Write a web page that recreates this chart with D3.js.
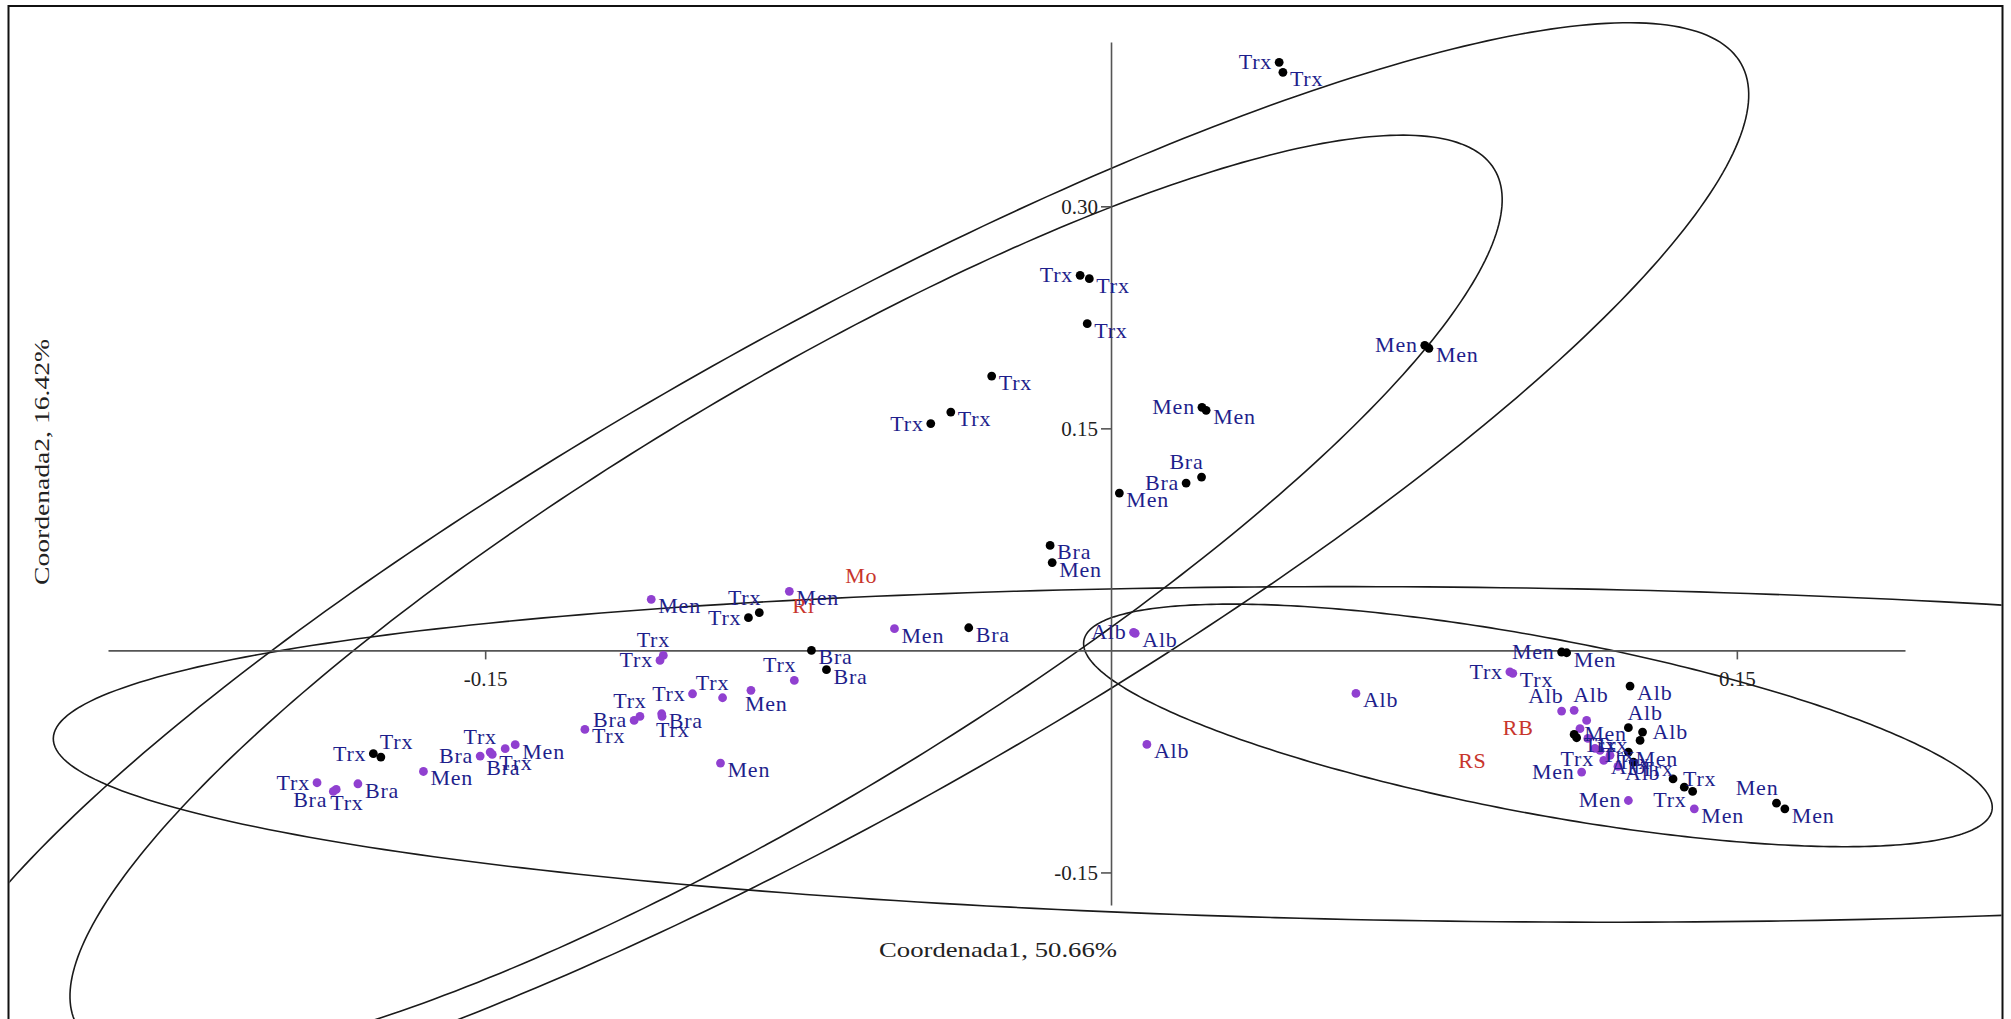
<!DOCTYPE html>
<html>
<head>
<meta charset="utf-8">
<script src="https://cdnjs.cloudflare.com/ajax/libs/d3/7.8.5/d3.min.js"></script>
<style>
  body { margin: 0; background: #fff; }
  svg { display: block; }
  text { font-family: 'Liberation Serif', 'Times New Roman', serif; }
</style>
</head>
<body>
<div id="chart"></div>
<script>
// PCoA scores (Coordenada1, Coordenada2)
const coord1 = [
  0.0403, 0.0412, -0.0074, -0.0052, -0.0057, -0.0286, -0.0384, -0.0432, 0.0218, 0.0228,
  0.0217, 0.0180, 0.0020, -0.0146, -0.0141, -0.0341, -0.0718, -0.0682, -0.0869, -0.0843,
  -0.0519, 0.0054, 0.0058, 0.0086, -0.0771, -0.1102, -0.1073, -0.1081, -0.1077, -0.1076,
  -0.1129, -0.1143, -0.1261, -0.1003, -0.0931, -0.0863, -0.0759, -0.0936,
  -0.1768, -0.1750, -0.1648, -0.1512, -0.1488, -0.1452, -0.1428, -0.1483, -0.1903, -0.1857,
  -0.1864, -0.1805,
  0.1080, 0.1092, 0.0956, 0.0963, 0.1080, 0.1110, 0.1244, 0.1240, 0.1274, 0.1268,
  0.1140, 0.1124, 0.1110, 0.1116, 0.1172, 0.1196, 0.1215, 0.1240, 0.1252, 0.1347,
  0.1374, 0.1394, 0.1128, 0.1240, 0.1398, 0.1595, 0.1615, 0.0587, 0.1160, 0.1143,
  0.1181, 0.0752, 0.0762
];
const coord2 = [
  0.3973, 0.3905, 0.2534, 0.2511, 0.2207, 0.1853, 0.1610, 0.1532, 0.1642, 0.1622,
  0.1171, 0.1130, 0.1063, 0.0709, 0.0593, 0.0153, 0.0000, -0.0130, 0.0221, 0.0255,
  0.0147, 0.0122, 0.0115, -0.0635, 0.0399, 0.0345, -0.0034, -0.0068, -0.0428, -0.0446,
  -0.0446, -0.0473, -0.0534, -0.0293, -0.0320, -0.0270, -0.0203, -0.0761,
  -0.0698, -0.0721, -0.0818, -0.0714, -0.0687, -0.0664, -0.0637, -0.0703, -0.0894, -0.0939,
  -0.0953, -0.0901,
  -0.0011, -0.0016, -0.0145, -0.0155, -0.0410, -0.0405, -0.0241, -0.0522, -0.0552, -0.0608,
  -0.0473, -0.0529, -0.0568, -0.0590, -0.0676, -0.0709, -0.0784, -0.0687, -0.0755, -0.0868,
  -0.0924, -0.0953, -0.0822, -0.1014, -0.1070, -0.1032, -0.1070, -0.0291, -0.0662, -0.0595,
  -0.0743, 0.2061, 0.2041
];
// 0 = black dots, 1 = purple dots
const dotGroup = [
  0, 0, 0, 0, 0, 0, 0, 0, 0, 0,
  0, 0, 0, 0, 0, 0, 0, 0, 0, 0,
  1, 1, 1, 1, 1, 1, 1, 1, 1, 1,
  1, 1, 1, 1, 1, 1, 1, 1,
  0, 0, 1, 1, 1, 1, 1, 1, 1, 1,
  1, 1,
  0, 0, 1, 1, 1, 1, 0, 0, 0, 0,
  1, 1, 0, 0, 1, 1, 1, 0, 0, 0,
  0, 0, 1, 1, 1, 0, 0, 1, 1, 1,
  1, 0, 0
];
const pointLabels = [
  'Trx', 'Trx', 'Trx', 'Trx', 'Trx', 'Trx', 'Trx', 'Trx', 'Men', 'Men',
  'Bra', 'Bra', 'Men', 'Bra', 'Men', 'Bra', 'Bra', 'Bra', 'Trx', 'Trx',
  'Men', 'Alb', 'Alb', 'Alb', 'Men', 'Men', 'Trx', 'Trx', 'Bra', 'Trx',
  'Trx', 'Bra', 'Trx', 'Trx', 'Trx', 'Men', 'Trx', 'Men',
  'Trx', 'Trx', 'Men', 'Bra', 'Trx', 'Trx', 'Men', 'Bra', 'Trx', 'Trx',
  'Bra', 'Bra',
  'Men', 'Men', 'Trx', 'Trx', 'Alb', 'Alb', 'Alb', 'Alb', 'Alb', '',
  '', '', 'Men', 'Trx', 'Trx', 'Trx', 'Alb', 'Men', 'Trx', 'Trx',
  '', 'Trx', 'Men', 'Men', 'Men', 'Men', 'Men', 'Alb', 'Trx', 'Trx',
  'Alb', 'Men', 'Men'
];
// where each label sits next to its dot
const labelSide = [
  'l', 'r', 'l', 'r', 'r', 'r', 'r', 'l', 'l', 'r',
  'al', 'l', 'r', 'r', 'r', 'r', 'r', 'r', 'l', 'al',
  'r', 'l', 'r', 'r', 'r', 'r', 'a', 'l', 'r', 'b',
  'a', 'l', 'r', 'l', 'a', 'b', 'al', 'r',
  'l', 'ar', 'r', 'l', 'a', 'b', 'r', 'b', 'l', 'b',
  'lb', 'r',
  'l', 'r', 'l', 'r', 'al', 'ar', 'r', 'ar', 'rm', 'r',
  'r', 'r', 'rm', 'r', 'lb', 'r', 'r', 'r', 'r', 'rm',
  'r', 'lb', 'l', 'l', 'r', 'al', 'r', 'r', 'r', 'r',
  'r', 'l', 'r'
];

// group names (red) and where they are printed
const groupNames = ['Mo', 'Ri', 'RB', 'RS'];
const groupNameX = [-0.0637, -0.0764, 0.0939, 0.0832];
const groupNameY = [0.0453, 0.0250, -0.0574, -0.0797];

// confidence ellipses: centre and the two semi-axis vectors, in data units
const ellipseCenters = [[-0.06734, 0.05068], [-0.07788, 0.03541], [0.08723, -0.07027], [0.10232, -0.05068]];
const ellipseAxisA = [[0.21838, 0.34554], [0.16976, 0.28959], [0.34074, -0.01074], [0.10882, -0.05743]];
const ellipseAxisB = [[0.02815, -0.14142], [0.02530, -0.11791], [-0.00045, -0.11284], [-0.00388, -0.05845]];

const xExtent = [-0.2404, 0.1903];
const yExtent = [-0.172, 0.411];
const xTicks = [-0.15, 0.15];
const yTicks = [-0.15, 0.15, 0.30];
const xTitle = 'Coordenada1, 50.66%';
const yTitle = 'Coordenada2, 16.42%';

const width = 2011;
const height = 1019;
const labelColor = '#1f1f8c';
const dotColors = ['#000000', '#9040d0'];
const place = {
  r: ['start', 7, 14],
  l: ['end', -7, 7],
  rm: ['start', 10, 7],
  a: ['middle', -10, -8],
  al: ['end', 2, -8],
  ar: ['start', -1, -8],
  b: ['start', -6, 21],
  lb: ['end', -6, 16]
};

const svg = d3.select('#chart').append('svg')
  .attr('width', width)
  .attr('height', height);

svg.append('rect')
  .attr('width', width)
  .attr('height', height)
  .attr('fill', '#fff');

const x = d3.scaleLinear().domain(xExtent).range([108, 1905]);
const y = d3.scaleLinear().domain(yExtent).range([905, 42]);

// frame
svg.append('rect')
  .attr('x', 8.5)
  .attr('y', 6)
  .attr('width', 1994)
  .attr('height', 1030)
  .attr('fill', 'none')
  .attr('stroke', '#111')
  .attr('stroke-width', 2);

svg.append('clipPath')
  .attr('id', 'frame')
  .append('rect')
  .attr('x', 9.5)
  .attr('y', 7)
  .attr('width', 1992)
  .attr('height', 1030);

// ellipses
const line = d3.line()
  .x(d => x(d[0]))
  .y(d => y(d[1]))
  .curve(d3.curveLinearClosed);

const steps = d3.range(0, 360, 1).map(a => a * Math.PI / 180);

svg.append('g')
  .attr('clip-path', 'url(#frame)')
  .selectAll('path')
  .data(ellipseCenters)
  .join('path')
  .attr('d', (c, i) => line(steps.map(t => [
    c[0] + ellipseAxisA[i][0] * Math.cos(t) + ellipseAxisB[i][0] * Math.sin(t),
    c[1] + ellipseAxisA[i][1] * Math.cos(t) + ellipseAxisB[i][1] * Math.sin(t)
  ])))
  .attr('fill', 'none')
  .attr('stroke', '#1a1a1a')
  .attr('stroke-width', 1.6);

// axes crossing at the origin
const fmt = d => d.toFixed(2);

const gx = svg.append('g')
  .attr('transform', 'translate(0,' + y(0) + ')')
  .call(d3.axisBottom(x).tickValues(xTicks).tickFormat(fmt).tickSize(9).tickSizeOuter(0).tickPadding(12));

const gy = svg.append('g')
  .attr('transform', 'translate(' + x(0) + ',0)')
  .call(d3.axisLeft(y).tickValues(yTicks).tickFormat(fmt).tickSize(10).tickSizeOuter(0).tickPadding(3));

[gx, gy].forEach(g => {
  g.select('.domain').attr('stroke', '#555').attr('stroke-width', 1.6);
  g.selectAll('.tick line').attr('stroke', '#555').attr('stroke-width', 1.6);
  g.selectAll('.tick text')
    .attr('fill', '#222')
    .style('font-size', '21px')
    .style('font-family', "'Liberation Serif', serif");
});

// axis titles
svg.append('text')
  .attr('x', 998)
  .attr('y', 957)
  .attr('text-anchor', 'middle')
  .attr('textLength', 238)
  .attr('lengthAdjust', 'spacingAndGlyphs')
  .attr('fill', '#222')
  .style('font-size', '21px')
  .text(xTitle);

svg.append('text')
  .attr('transform', 'translate(49,462) rotate(-90)')
  .attr('text-anchor', 'middle')
  .attr('textLength', 246)
  .attr('lengthAdjust', 'spacingAndGlyphs')
  .attr('fill', '#222')
  .style('font-size', '21px')
  .text(yTitle);

// points
const idx = d3.range(coord1.length);

svg.append('g')
  .selectAll('circle')
  .data(idx)
  .join('circle')
  .attr('cx', i => x(coord1[i]))
  .attr('cy', i => y(coord2[i]))
  .attr('r', 4.4)
  .attr('fill', i => dotColors[dotGroup[i]]);

svg.append('g')
  .selectAll('text')
  .data(idx.filter(i => pointLabels[i] !== ''))
  .join('text')
  .attr('x', i => x(coord1[i]) + place[labelSide[i]][1])
  .attr('y', i => y(coord2[i]) + place[labelSide[i]][2])
  .attr('text-anchor', i => place[labelSide[i]][0])
  .attr('fill', labelColor)
  .style('font-size', '22px')
  .style('letter-spacing', '0.8px')
  .text(i => pointLabels[i]);

// group names
svg.append('g')
  .selectAll('text')
  .data(groupNames)
  .join('text')
  .attr('x', (d, i) => x(groupNameX[i]))
  .attr('y', (d, i) => y(groupNameY[i]))
  .attr('fill', '#c8352c')
  .style('font-size', '22px')
  .style('letter-spacing', '0.8px')
  .text(d => d);
</script>
</body>
</html>
